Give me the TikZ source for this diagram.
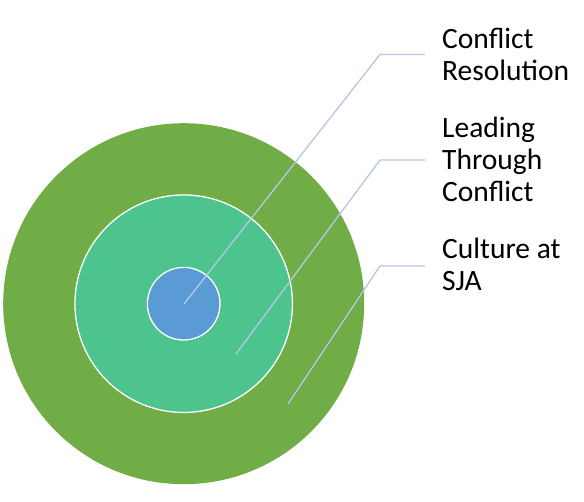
\documentclass[tikz,border=0pt]{standalone}
\usepackage{fontspec}
\setmainfont{Carlito}
\definecolor{outerg}{HTML}{70AD47}
\definecolor{midg}{HTML}{4DC48D}
\definecolor{innerb}{HTML}{5B9BD5}
\definecolor{leader}{HTML}{B4C7E7}
\begin{document}
\begin{tikzpicture}[x=1pt,y=-1pt,
  ring/.style={circle,inner sep=0pt,draw=white,line width=1.3pt},
  lbl/.style={anchor=base west,inner sep=0pt,align=left,font=\fontsize{29.5}{31.7}\selectfont},
  leaderline/.style={draw=leader,line width=1.3pt}]
\useasboundingbox (0,0) rectangle (584,501);
\node[ring,draw=none,fill=outerg,minimum size=361pt] (outer) at (183.7,303.7) {};
\node[ring,fill=midg,minimum size=217.5pt] (middle) at (183.7,303.7) {};
\node[ring,fill=innerb,minimum size=72.6pt] (inner) at (183.7,303.7) {};
\coordinate (p1) at (184,304);
\coordinate (k1) at (380,54.5);
\coordinate (e1) at (425,54.5);
\coordinate (p2) at (236,354);
\coordinate (k2) at (380,160);
\coordinate (e2) at (425,160);
\coordinate (p3) at (288,404);
\coordinate (k3) at (380,266);
\coordinate (e3) at (425,266);
\draw[leaderline] (p1) -- (k1) -- (e1);
\draw[leaderline] (p2) -- (k2) -- (e2);
\draw[leaderline] (p3) -- (k3) -- (e3);
\node[lbl] (l1) at (442,80) {Conflict\\Resolution};
\node[lbl] (l2) at (442,201) {Leading\\Through\\Conflict};
\node[lbl] (l3) at (442,290) {Culture at\\SJA};
\end{tikzpicture}
\end{document}
